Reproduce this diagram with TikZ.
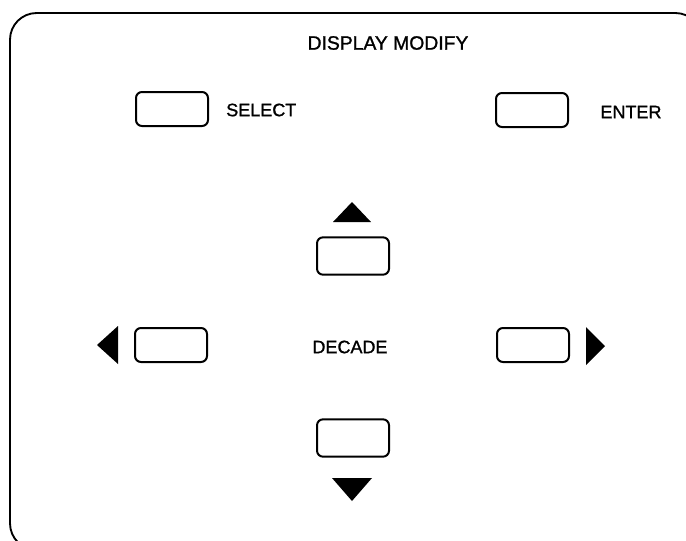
\documentclass[tikz,border=0pt]{standalone}
\usepackage{fontspec}
\setmainfont{Liberation Sans}[FakeBold=1.2]
\usetikzlibrary{positioning}

\begin{document}
\begin{tikzpicture}[
    x=0.75pt, y=-0.75pt,
    font=\fontsize{13.5}{16}\selectfont,
    frame/.style={line width=1.4pt, rounded corners=20pt},
    key/.style={draw, line width=1.5pt, rounded corners=4.5pt,
        minimum width=54pt, minimum height=25.5pt, inner sep=0pt},
    tallkey/.style={key, minimum height=28pt},
    caption/.style={inner sep=0pt, anchor=center},
    pointer/.style={fill=black}
]
    \useasboundingbox (0,0) rectangle (686,540);
    \clip (0,0) rectangle (686,540);

    % outer panel, cropped at right and bottom
    \draw[frame] (10,13) rectangle (702,550);

    \node[caption, font=\fontsize{14.5}{17}\selectfont] (title) at (388,43) {DISPLAY MODIFY};

    % top row
    \node[key] (select) at (172,109) {};
    \node[caption, anchor=west] (selectlbl) at (226,110) {SELECT};
    \node[key] (enter) at (532,110) {};
    \node[caption] (enterlbl) at (631,112) {ENTER};

    % decade keys
    \node[tallkey] (up) at (353,256) {};
    \node[tallkey] (down) at (353,438) {};
    \node[key] (left) at (171,345) {};
    \node[key] (right) at (533,345) {};
    \node[caption] (decade) at (350,347) {DECADE};

    % arrow marks
    \coordinate (upmark) at (352,222);
    \coordinate (downmark) at (352,478);
    \coordinate (leftmark) at (118,345);
    \coordinate (rightmark) at (586,346);
    \fill[pointer] (upmark) ++(-19,0) -- ++(38,0) -- ++(-19,-20) -- cycle;
    \fill[pointer] (downmark) ++(-20,0) -- ++(40,0) -- ++(-20,23) -- cycle;
    \fill[pointer] (leftmark) ++(0,-19) -- ++(0,38) -- ++(-21,-19) -- cycle;
    \fill[pointer] (rightmark) ++(0,-19) -- ++(0,38) -- ++(19,-19) -- cycle;
\end{tikzpicture}
\end{document}
